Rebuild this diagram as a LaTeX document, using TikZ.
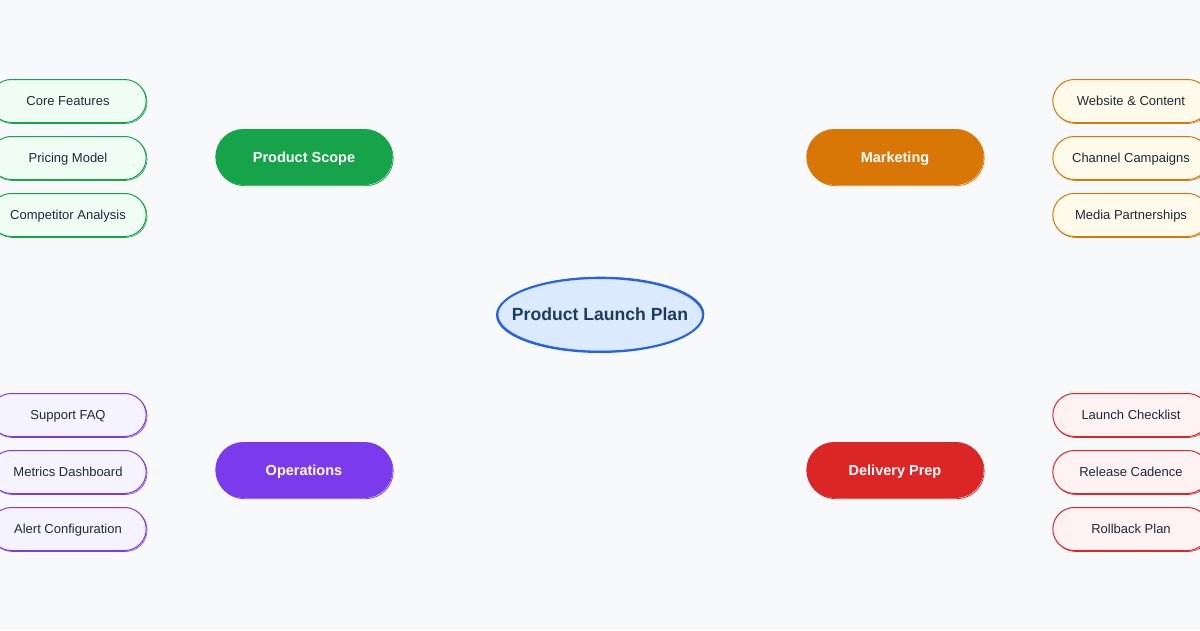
\documentclass[tikz,border=0pt]{standalone}
\usepackage{fontspec}
\setmainfont{Liberation Sans}
\usetikzlibrary{shapes.geometric,shapes.misc}
\definecolor{bg}{HTML}{F8F9FB}
\definecolor{txt}{HTML}{1F2937}
\definecolor{gS}{HTML}{16A34A}\definecolor{gF}{HTML}{F0FDF4}
\definecolor{oS}{HTML}{D97706}\definecolor{oF}{HTML}{FFFBEB}
\definecolor{pS}{HTML}{7C3AED}\definecolor{pF}{HTML}{F5F3FF}
\definecolor{rS}{HTML}{DC2626}\definecolor{rF}{HTML}{FEF2F2}
\definecolor{bS}{HTML}{2563EB}\definecolor{bF}{HTML}{DBEAFE}
\definecolor{bT}{HTML}{1E3A5F}
\tikzset{
  leafbox/.style={rounded rectangle, minimum width=163pt, minimum height=43pt,
    draw=#1S, fill=#1F, line width=1pt, text=txt, font=\fontsize{13}{15}\selectfont,
    text depth=0pt, yshift=-1pt,
    preaction={draw=#1S, line width=0.6pt, transform canvas={shift={(0.9pt,-1pt)}}}},
  catbox/.style={rounded rectangle, minimum width=183pt, minimum height=55pt,
    draw=#1S, fill=#1S, line width=1pt, text=white, font=\fontsize{14.5}{18}\selectfont\bfseries,
    text depth=0pt,
    preaction={draw=#1S, line width=0.8pt, transform canvas={shift={(1pt,-1.2pt)}}}},
  roottext/.style={text=bT, font=\fontsize{17.6}{22}\selectfont\bfseries, inner sep=0pt}
}
\begin{document}
\begin{tikzpicture}[x=1pt,y=-1pt]
\useasboundingbox[fill=bg] (0,0) rectangle (1200,630);
\fill[bF] (600,315) ellipse [x radius=103, y radius=37];
\draw[bS, line width=1pt, shift={(0.8,-0.8)}] (600,315) ellipse [x radius=103, y radius=37];
\draw[bS, line width=2pt] (600,315) ellipse [x radius=103, y radius=37];
\node[roottext] (root) at (600,314) {Product Launch Plan};
\node[catbox=g] (scope) at (304,157) {Product Scope};
\node[catbox=o] (mkt) at (895,157) {Marketing};
\node[catbox=p] (ops) at (304,470) {Operations};
\node[catbox=r] (del) at (895,470) {Delivery Prep};
\node[leafbox=g] (l1) at (68,100) {Core Features};
\node[leafbox=g] (l2) at (68,157) {Pricing Model};
\node[leafbox=g] (l3) at (68,214) {Competitor Analysis};
\node[leafbox=o] (r1) at (1131,100) {Website \& Content};
\node[leafbox=o] (r2) at (1131,157) {Channel Campaigns};
\node[leafbox=o] (r3) at (1131,214) {Media Partnerships};
\node[leafbox=p] (l4) at (68,414) {Support FAQ};
\node[leafbox=p] (l5) at (68,471) {Metrics Dashboard};
\node[leafbox=p] (l6) at (68,528) {Alert Configuration};
\node[leafbox=r] (r4) at (1131,414) {Launch Checklist};
\node[leafbox=r] (r5) at (1131,471) {Release Cadence};
\node[leafbox=r] (r6) at (1131,528) {Rollback Plan};
\end{tikzpicture}
\end{document}
